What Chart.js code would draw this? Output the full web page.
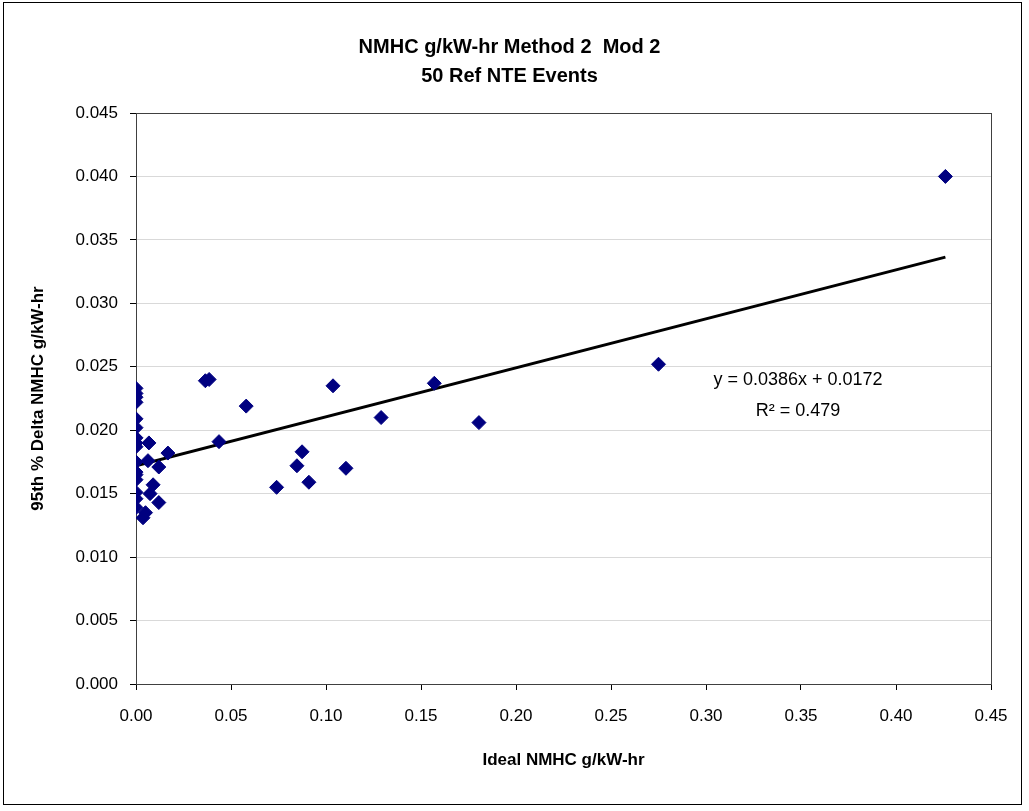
<!DOCTYPE html>
<html>
<head>
<meta charset="utf-8">
<script src="https://cdn.jsdelivr.net/npm/chart.js@4"></script>
<style>
  html, body { margin: 0; padding: 0; background: #fff; }
  #wrap { width: 1029px; height: 811px; }
</style>
</head>
<body>
<div id="wrap"><canvas id="chart" width="1029" height="811"></canvas></div>
<script>
// Ideal NMHC g/kW-hr (x) vs 95th % Delta NMHC g/kW-hr (y)
var idealNmhc = [
  0, 0, 0, 0, 0, 0, 0, 0, 0, 0, 0, 0, 0, 0, 0, 0,
  0.0068, 0.0168, 0.0063, 0.0120, 0.0090, 0.0074, 0.0120, 0.0050, 0.0037,
  0.0365, 0.0385, 0.0437, 0.0580, 0.0740, 0.0847, 0.0874, 0.0910,
  0.1037, 0.1105, 0.1290, 0.1570, 0.1805, 0.2750, 0.4260
];
var deltaNmhc = [
  0.0233, 0.0229, 0.0226, 0.0222, 0.0209, 0.0202, 0.0194, 0.0190, 0.0187, 0.0175,
  0.0167, 0.0165, 0.0161, 0.0151, 0.0146, 0.0139,
  0.0190, 0.0182, 0.0176, 0.0171, 0.0157, 0.0150, 0.0143, 0.0135, 0.0131,
  0.0239, 0.0240, 0.0191, 0.0219, 0.0155, 0.0172, 0.0183, 0.0159,
  0.0235, 0.0170, 0.0210, 0.0237, 0.0206, 0.0252, 0.0400
];
var trendSlope = 0.0386;
var trendIntercept = 0.0172;
var trendR2 = 0.479;
var xTicks = [0, 0.05, 0.10, 0.15, 0.20, 0.25, 0.30, 0.35, 0.40, 0.45];
var yTicks = [0, 0.005, 0.010, 0.015, 0.020, 0.025, 0.030, 0.035, 0.040, 0.045];

var points = idealNmhc.map(function (x, i) { return { x: x, y: deltaNmhc[i] }; });
var xMaxData = Math.max.apply(null, idealNmhc);
var trend = [
  { x: 0, y: trendIntercept },
  { x: xMaxData, y: trendIntercept + trendSlope * xMaxData }
];

var FONT = "Arial, 'Liberation Sans', sans-serif";

// borders + trendline label
var decor = {
  id: 'decor',
  beforeDatasetsDraw: function (chart) {
    var ctx = chart.ctx, a = chart.chartArea;
    ctx.save();
    ctx.strokeStyle = '#404040';
    ctx.lineWidth = 1;
    ctx.strokeRect(a.left + 0.5, a.top + 0.5, a.right - a.left, a.bottom - a.top);
    ctx.restore();
  },
  afterDraw: function (chart) {
    var ctx = chart.ctx;
    ctx.save();
    ctx.strokeStyle = '#000';
    ctx.lineWidth = 1;
    ctx.strokeRect(3.5, 2.5, 1018, 802);
    ctx.fillStyle = '#000';
    ctx.font = '18px ' + FONT;
    ctx.textAlign = 'center';
    ctx.textBaseline = 'middle';
    ctx.fillText('y = ' + trendSlope.toFixed(4) + 'x + ' + trendIntercept.toFixed(4), 798, 380);
    ctx.fillText('R\u00B2 = ' + trendR2.toFixed(3), 798, 411);
    ctx.restore();
  }
};

new Chart(document.getElementById('chart'), {
  type: 'scatter',
  data: {
    datasets: [{
      label: 'Events',
      data: points,
      pointStyle: 'rectRot',
      pointRadius: 7,
      backgroundColor: '#000080',
      borderColor: '#000080',
      borderWidth: 1
    }, {
      label: 'Linear',
      type: 'line',
      data: trend,
      borderColor: '#000',
      borderWidth: 3,
      pointRadius: 0,
      fill: false
    }]
  },
  options: {
    responsive: false,
    animation: false,
    layout: { padding: { left: 28, right: 38, top: 0, bottom: 40 } },
    plugins: {
      legend: { display: false },
      tooltip: { enabled: false },
      title: {
        display: true,
        text: ['NMHC g/kW-hr Method 2  Mod 2', '50 Ref NTE Events'],
        color: '#000',
        font: { family: FONT, size: 20, weight: 'bold', lineHeight: 1.45 },
        padding: { top: 33, bottom: 22 }
      }
    },
    scales: {
      x: {
        type: 'linear',
        min: 0,
        max: 0.45,
        afterBuildTicks: function (s) { s.ticks = xTicks.map(function (v) { return { value: v }; }); },
        afterFit: function (s) { s.height = 87; },
        ticks: {
          color: '#000',
          font: { family: FONT, size: 17 },
          padding: 16,
          callback: function (v) { return v.toFixed(2); }
        },
        grid: { drawOnChartArea: false, drawTicks: true, tickLength: 6, tickColor: '#000' },
        border: { color: '#000', width: 1 },
        title: {
          display: true,
          text: 'Ideal NMHC g/kW-hr',
          color: '#000',
          font: { family: FONT, size: 17, weight: 'bold' },
          padding: { top: 0, bottom: 0 }
        }
      },
      y: {
        type: 'linear',
        min: 0,
        max: 0.045,
        afterBuildTicks: function (s) { s.ticks = yTicks.map(function (v) { return { value: v }; }); },
        afterFit: function (s) { s.width = 108; },
        ticks: {
          color: '#000',
          font: { family: FONT, size: 17 },
          padding: 12,
          callback: function (v) { return v.toFixed(3); }
        },
        grid: { color: '#d9d9d9', drawTicks: true, tickLength: 6, tickColor: '#000' },
        border: { color: '#000', width: 1 },
        title: {
          display: true,
          text: '95th % Delta NMHC g/kW-hr',
          color: '#000',
          font: { family: FONT, size: 17, weight: 'bold' },
          padding: { top: 0, bottom: 0 }
        }
      }
    }
  },
  plugins: [decor]
});
</script>
</body>
</html>
